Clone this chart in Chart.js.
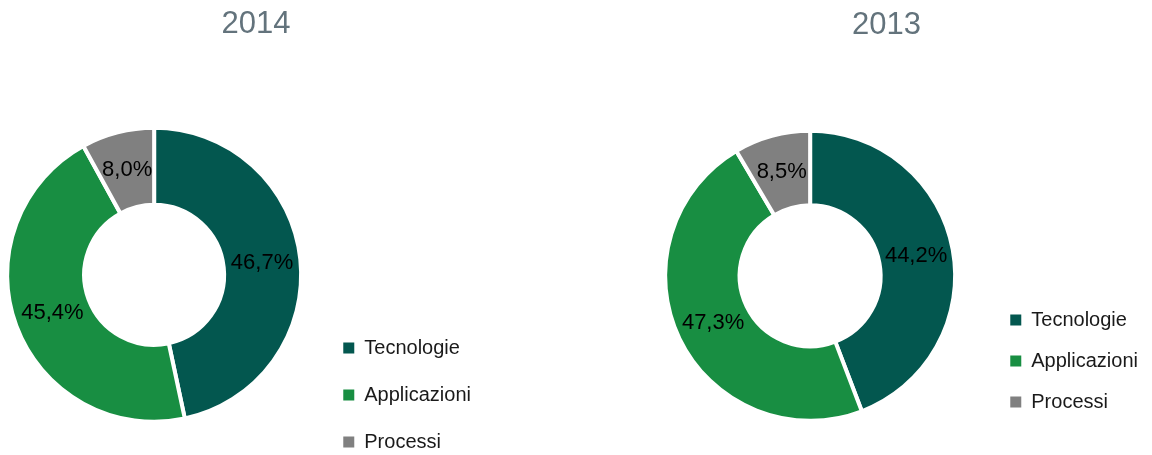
<!DOCTYPE html>
<html>
<head>
<meta charset="utf-8">
<script src="https://cdn.jsdelivr.net/npm/chart.js@4/dist/chart.umd.min.js"></script>
<style>
  html, body { margin: 0; padding: 0; background: #ffffff; overflow: hidden; width: 1152px; height: 455px; }
  .panel { position: absolute; top: 0; }
  #p1 { left: -8px; width: 528px; height: 479px; }
  #p2 { left: 625px; width: 523px; height: 433px; }
</style>
</head>
<body>
<div class="panel" id="p1"><canvas id="c1"></canvas></div>
<div class="panel" id="p2"><canvas id="c2"></canvas></div>
<script>
// ---- data ----
const categories = ['Tecnologie', 'Applicazioni', 'Processi'];
const values2014 = [46.7, 45.4, 8.0];
const values2013 = [44.2, 47.3, 8.5];
const title2014 = '2014';
const title2013 = '2013';
const sliceColors = ['#03574F', '#188E42', '#808080'];

const FONT = "'Liberation Sans', Arial, sans-serif";
Chart.defaults.font.family = FONT;

const fmtPct = v => v.toFixed(1).replace('.', ',') + '%';

// percentage labels at the middle of each ring segment
const pctLabels = {
  id: 'pctLabels',
  afterDatasetsDraw(chart) {
    const ctx = chart.ctx;
    const meta = chart.getDatasetMeta(0);
    const data = chart.data.datasets[0].data;
    ctx.save();
    ctx.font = '22px ' + FONT;
    ctx.fillStyle = '#000000';
    ctx.textAlign = 'center';
    ctx.textBaseline = 'middle';
    meta.data.forEach((arc, i) => {
      const p = arc.getCenterPoint();
      ctx.fillText(fmtPct(data[i]), p.x, p.y);
    });
    ctx.restore();
  }
};

// year title centred over the whole chart frame (plot + legend)
const frameTitle = {
  id: 'frameTitle',
  afterDraw(chart, args, opts) {
    const ctx = chart.ctx;
    ctx.save();
    ctx.font = opts.size + 'px ' + FONT;
    ctx.fillStyle = opts.color;
    ctx.textAlign = 'center';
    ctx.textBaseline = 'middle';
    ctx.fillText(opts.text, chart.width / 2, opts.y);
    ctx.restore();
  }
};

const baseGen = Chart.overrides.doughnut.plugins.legend.labels.generateLabels;

function makeChart(id, titleText, values, cfg) {
  return new Chart(document.getElementById(id), {
    type: 'doughnut',
    data: {
      labels: categories,
      datasets: [{
        data: values,
        backgroundColor: sliceColors,
        borderColor: '#ffffff',
        borderWidth: 4,
        hoverOffset: 0
      }]
    },
    options: {
      responsive: true,
      maintainAspectRatio: false,
      devicePixelRatio: 1,
      animation: false,
      events: [],
      radius: cfg.radius,
      cutout: cfg.cutout,
      layout: { padding: cfg.padding },
      plugins: {
        tooltip: { enabled: false },
        title: { display: false },
        frameTitle: { text: titleText, size: 31, color: '#63737C', y: cfg.titleY },
        legend: {
          display: true,
          position: 'right',
          align: 'end',
          labels: {
            boxWidth: 11,
            boxHeight: 11,
            padding: cfg.legendPad,
            color: '#1a1a1a',
            font: { size: 20 },
            generateLabels: (chart) => baseGen(chart).map(it => Object.assign(it, { lineWidth: 0 }))
          }
        }
      }
    },
    plugins: [pctLabels, frameTitle]
  });
}

makeChart('c1', title2014, values2014, {
  radius: 147, cutout: '47.6%', titleY: 24.5, legendPad: 27,
  padding: { top: 70.6, left: 0, right: 39, bottom: 0 }
});
makeChart('c2', title2013, values2013, {
  radius: 145, cutout: '48.6%', titleY: 25.5, legendPad: 21,
  padding: { top: 118.6, left: 6, right: 0, bottom: 0 }
});
</script>
</body>
</html>
